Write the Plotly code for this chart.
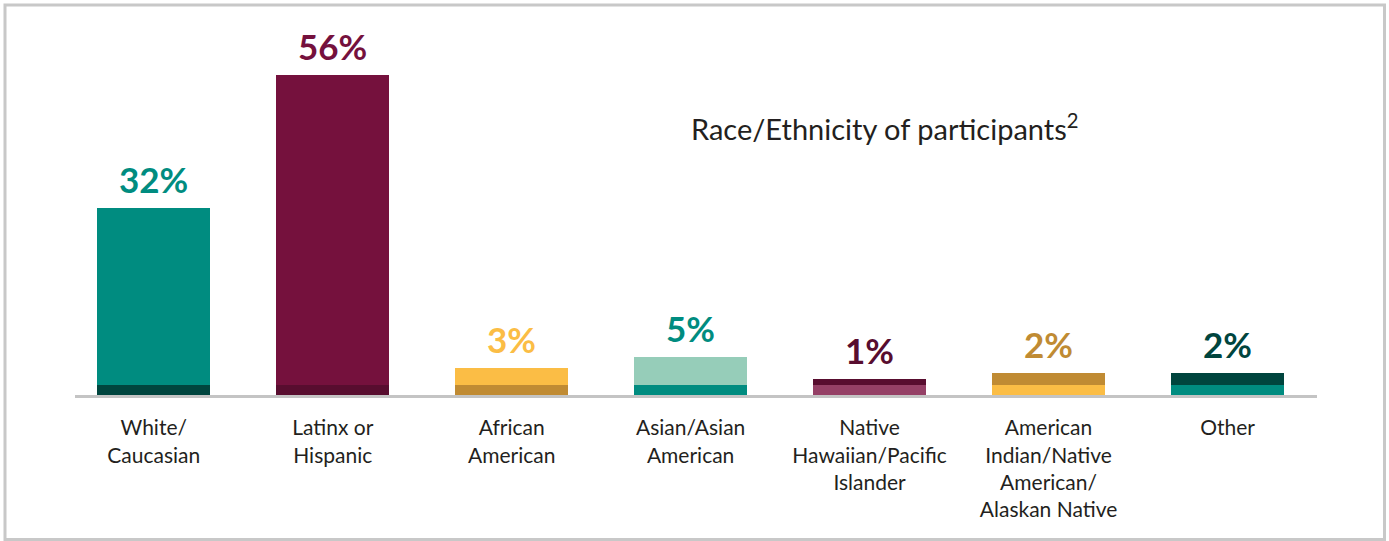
import plotly.graph_objects as go

categories = ["White/<br>Caucasian", "Latinx or<br>Hispanic", "African<br>American",
              "Asian/Asian<br>American", "Native<br>Hawaiian/Pacific<br>Islander",
              "American<br>Indian/Native<br>American/<br>Alaskan Native", "Other"]
values = [32, 56, 3, 5, 1, 2, 2]
value_labels = ["32%", "56%", "3%", "5%", "1%", "2%", "2%"]

top_colors = ["#008C80", "#75113D", "#FBBD45", "#96CDB9", "#580D2F", "#C08B33", "#00453E"]
base_colors = ["#00453E", "#580D2F", "#C08B33", "#008C80", "#954066", "#FBBD45", "#008C80"]
label_colors = ["#008C80", "#75113D", "#FBBD45", "#008C80", "#580D2F", "#C08B33", "#00453E"]

BASE_BAND = 1.9  # decorative base strip height (style)
FONT = "Lato"

x_idx = list(range(len(categories)))

fig = go.Figure()
fig.add_trace(go.Bar(x=x_idx, y=[BASE_BAND] * len(values), marker=dict(color=base_colors, line=dict(width=0)),
                     width=0.63, hoverinfo="skip", showlegend=False))
fig.add_trace(go.Bar(x=x_idx, y=values, marker=dict(color=top_colors, line=dict(width=0)),
                     width=0.63, showlegend=False))

for i, (v, lab, c) in enumerate(zip(values, value_labels, label_colors)):
    fig.add_annotation(x=i, y=v + BASE_BAND, text="<b>" + lab + "</b>", showarrow=False,
                       yanchor="bottom", yshift=6, font=dict(family=FONT, size=35, color=c))

fig.add_annotation(xref="paper", yref="paper", x=(885 - 75) / 1242, y=(395 - 127) / 335,
                   text="Race/Ethnicity of participants<sup>2</sup>", showarrow=False,
                   xanchor="center", yanchor="middle",
                   font=dict(family=FONT, size=29, color="#231F20"))

# outer frame
fig.add_shape(type="rect", xref="paper", yref="paper",
              x0=(5 - 75) / 1242, x1=(1384.5 - 75) / 1242,
              y0=(395 - 539.5) / 335, y1=(395 - 5) / 335,
              line=dict(color="#C8C8C8", width=3), fillcolor="rgba(0,0,0,0)", layer="below")

fig.update_layout(
    width=1389, height=541,
    margin=dict(l=75, r=72, t=60, b=146),
    barmode="stack", bargap=0.37,
    plot_bgcolor="white", paper_bgcolor="white",
    font=dict(family=FONT, size=21, color="#231F20"),
    xaxis=dict(range=[-0.44, 6.5], tickmode="array", tickvals=x_idx, ticktext=categories,
               showline=True, linecolor="#C4C4C4", linewidth=3, showgrid=False, zeroline=False,
               ticks="outside", ticklen=12, tickcolor="rgba(0,0,0,0)",
               tickfont=dict(family=FONT, size=21, color="#231F20")),
    yaxis=dict(range=[0, 60.6], visible=False, showgrid=False, zeroline=False),
)

fig.write_html("out.html", config={"displayModeBar": False},
               post_script="document.body.style.margin='0';document.body.style.overflow='hidden';")
